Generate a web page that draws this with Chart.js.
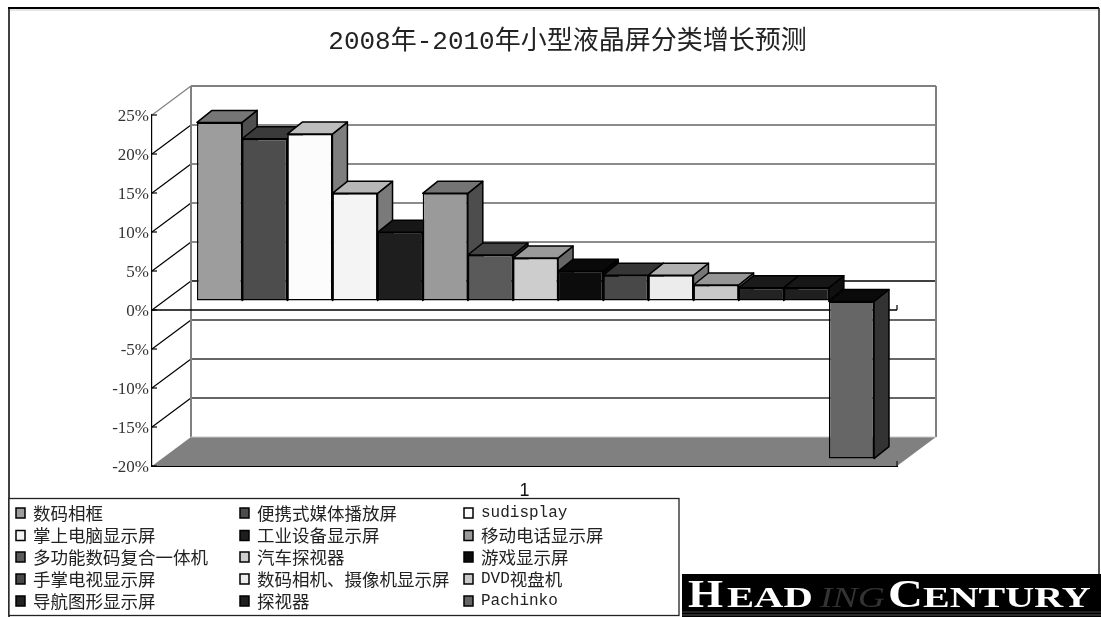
<!DOCTYPE html>
<html lang="zh-CN">
<head>
<meta charset="utf-8">
<style>html,body{margin:0;padding:0;background:#fff}canvas{display:block}</style>
<script src="https://cdn.jsdelivr.net/npm/chart.js@4/dist/chart.umd.js"></script>
</head>
<body>
<canvas id="c" width="1101" height="617"></canvas>
<script>
const chartTitle = '2008年-2010年小型液晶屏分类增长预测';
const categories = ['1'];
const seriesNames = ['数码相框','便携式媒体播放屏','sudisplay','掌上电脑显示屏','工业设备显示屏','移动电话显示屏','多功能数码复合一体机','汽车探视器','游戏显示屏','手掌电视显示屏','数码相机、摄像机显示屏','DVD视盘机','导航图形显示屏','探视器','Pachinko'];
const seriesValues = [22.9,20.8,21.4,13.8,8.8,13.8,5.9,5.5,3.8,3.3,3.3,2.05,1.7,1.7,-20.2];
const seriesGrays = [0x9d,0x4d,0xfc,0xf4,0x1e,0x9a,0x5a,0xcd,0x0c,0x48,0xec,0xc8,0x23,0x1f,0x66];
const yMin = -20, yMax = 25, yStep = 5;

const gray = (g, k=1) => { const v = Math.round(g*k); return `rgb(${v},${v},${v})`; };
const WALL = {dx:39, dy:-29};      // front plane -> back wall
const PLANE = {dx:11, dy:-9};      // front plane -> front of the bars
const DEPTH = {dx:15, dy:-12};     // depth of a bar
const line = (ctx,x1,y1,x2,y2,color,w) => { ctx.strokeStyle=color; ctx.lineWidth=w; ctx.beginPath(); ctx.moveTo(x1,y1); ctx.lineTo(x2,y2); ctx.stroke(); };
const poly = (ctx,pts,fill,stroke,w) => { ctx.beginPath(); pts.forEach((p,i)=> i?ctx.lineTo(p[0],p[1]):ctx.moveTo(p[0],p[1])); ctx.closePath(); ctx.fillStyle=fill; ctx.fill(); if(stroke){ctx.strokeStyle=stroke;ctx.lineWidth=w;ctx.lineJoin='round';ctx.stroke();} };

function mixedText(ctx, text, x, y, latinFont, cjkFont) {
  ctx.textAlign='left'; ctx.textBaseline='middle';
  for (const run of text.match(/[\x00-\x7f]+|[^\x00-\x7f]+/g)) {
    ctx.font = /^[\x00-\x7f]/.test(run) ? latinFont : cjkFont;
    ctx.fillText(run, x, y);
    x += ctx.measureText(run).width;
  }
}

const scene = {
  id:'scene',
  beforeDatasetsDraw(chart){
    const {ctx, chartArea:a, scales:{y}} = chart;
    const l=a.left, r=a.right, b=y.getPixelForValue(yMin), t=y.getPixelForValue(yMax);
    const bl=l+WALL.dx, br=r+WALL.dx;
    ctx.save();
    poly(ctx,[[l,b],[bl,b+WALL.dy],[br,b+WALL.dy],[r,b]],'#808080');
    for(let v=yMin;v<=yMax;v+=yStep){
      const py=y.getPixelForValue(v), by=py+WALL.dy;
      if(v===yMax) line(ctx,bl,by,br,by,'#808080',2);
      else if(v>yMin) line(ctx,bl,by,br,by,v===0?'#000':(v>0?'#666':'#333'),1.3);
      if(v>yMin) line(ctx,l,py,bl,by,v===yMax?'#808080':'#000',1.2);
      line(ctx,l,py,l+5,py,'#000',1.2);
    }
    line(ctx,bl,t+WALL.dy,bl,b+WALL.dy,'#808080',2);
    line(ctx,br,t+WALL.dy,br,b+WALL.dy,'#808080',2);
    line(ctx,bl,b+WALL.dy,br,b+WALL.dy,'#c8c8c8',1);
    const z=y.getPixelForValue(0);
    line(ctx,l,z,r,z,'#000',1.5);
    line(ctx,r,z,r,z-5,'#000',1.2);
    line(ctx,r,b,r,b-5,'#000',1);
    ctx.restore();
  },
  // the library would paint right to left; the box faces need left to right
  beforeDatasetDraw(){ return false; },
  afterDatasetsDraw(chart){
    const ctx=chart.ctx;
    ctx.save();
    ctx.translate(PLANE.dx,PLANE.dy);
    seriesNames.forEach((n,i)=>{
      const meta=chart.getDatasetMeta(i), el=meta.data[0];
      const {x,y,base,width}=el.getProps(['x','y','base','width']);
      const g=seriesGrays[i], neg=y>base;
      const top=Math.min(y,base), bot=Math.max(y,base), L=x-width/2, R=x+width/2;
      poly(ctx,[[R,top],[R+DEPTH.dx,top+DEPTH.dy],[R+DEPTH.dx,bot+DEPTH.dy],[R,bot]],gray(g,.5),'#000',1.5);
      poly(ctx,[[L,top],[L+DEPTH.dx,top+DEPTH.dy],[R+DEPTH.dx,top+DEPTH.dy],[R,top]],neg?'#0a0a0a':gray(g,.75),'#000',1.5);
      meta.controller.draw();
    });
    ctx.restore();
  },
  afterDraw(chart){
    const ctx=chart.ctx;
    ctx.save();
    // outer frame
    line(ctx,8,8,1099,8,'#000',2); line(ctx,9,8,9,617,'#000',1.5); line(ctx,1099,8,1099,575,'#222',1.5);
    line(ctx,10,10,1098,10,'#ccc',1);
    // legend box
    ctx.fillStyle='#fff'; ctx.fillRect(9,498.5,670,117);
    ctx.strokeStyle='#222'; ctx.lineWidth=1.3; ctx.strokeRect(9,498.5,670,117);
    const cols=[[16,33],[240,257],[464,481]], rows=[513,535.5,557,579,601];
    seriesNames.forEach((n,i)=>{
      const [bx,tx]=cols[i%3], y=rows[Math.floor(i/3)];
      ctx.fillStyle=gray(seriesGrays[i]); ctx.strokeStyle='#000'; ctx.lineWidth=1.5;
      ctx.fillRect(bx,y-5,9,10); ctx.strokeRect(bx,y-5,9,10);
      ctx.fillStyle='#222';
      mixedText(ctx,n,tx,y,'16px "Liberation Mono"','17.5px "Noto Sans CJK SC"');
    });
    // logo
    ctx.fillStyle='#000'; ctx.fillRect(682,574,419,43);
    line(ctx,682,612,1101,612,'#444',1); line(ctx,682,615,1101,615,'#555',1);
    const word=(s,x,font,sx,color)=>{ ctx.save(); ctx.translate(x,607); ctx.scale(sx,1); ctx.font=font; ctx.fillStyle=color; ctx.textAlign='left'; ctx.textBaseline='alphabetic'; ctx.fillText(s,0,0); ctx.restore(); };
    word('H',688,'bold 41px "Liberation Serif"',1.1,'#fff');
    word('EAD',727,'bold 29px "Liberation Serif"',1.4,'#fff');
    word('ING',820,'italic 29px "Liberation Serif"',1.3,'#333');
    word('C',888,'bold 41px "Liberation Serif"',1.18,'#fff');
    word('ENTURY',923,'bold 29px "Liberation Serif"',1.38,'#fff');
    ctx.restore();
  }
};

new Chart(document.getElementById('c').getContext('2d'), {
  type:'bar',
  data:{
    labels:categories,
    datasets:seriesNames.map((n,i)=>({
      label:n, data:[seriesValues[i]], clip:false,
      backgroundColor:gray(seriesGrays[i]), borderColor:'#000', borderWidth:1.5, borderSkipped:false,
      categoryPercentage:0.9087, barPercentage:1, yAxisID:'y'
    }))
  },
  plugins:[scene],
  options:{
    responsive:false, animation:false,
    layout:{padding:{left:34,right:0,top:0,bottom:0}},
    plugins:{
      legend:{display:false}, tooltip:{enabled:false},
      title:{display:true,text:chartTitle,color:'#222',padding:{top:26.5,bottom:57.3},
        font:{family:'"Liberation Mono","Noto Sans CJK SC"',size:26,weight:'normal',lineHeight:1.2}}
    },
    scales:{
      x:{ grid:{display:false}, border:{display:true,color:'#000',width:2},
        ticks:{padding:6,color:'#111',font:{family:'"Liberation Sans"',size:18}},
        afterFit(s){s.height=151;} },
      y:{ min:yMin,max:yMax,position:'left',
        grid:{drawOnChartArea:false,drawTicks:false}, border:{display:true,color:'#000',width:1.2},
        ticks:{stepSize:yStep,padding:3,labelOffset:2,color:'#333',font:{family:'"Liberation Serif"',size:17},callback:v=>v+'%'},
        afterFit(s){s.width=118;} },
      spacer:{ position:'right',display:true,grid:{display:false},border:{display:false},ticks:{display:false},
        afterFit(s){s.width=204;} }
    }
  }
});
</script>
</body>
</html>
